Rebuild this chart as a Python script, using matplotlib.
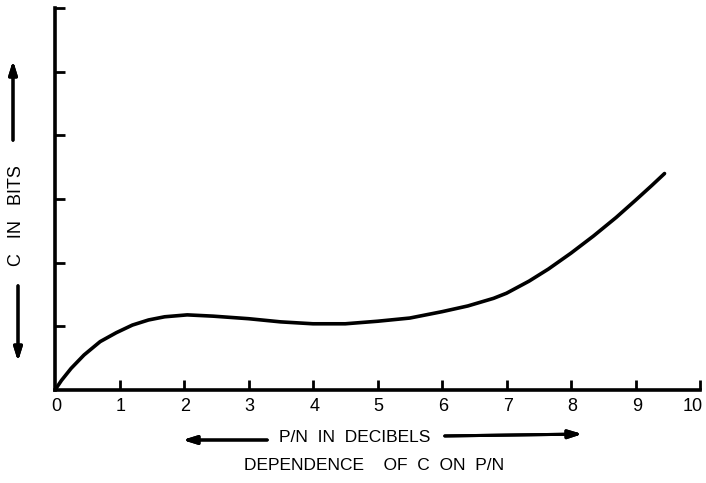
import numpy as np
from matplotlib import pyplot as plt

# values
pn_db = [0, 0.1, 0.25, 0.45, 0.7, 0.95, 1.2, 1.45, 1.7, 2.05, 2.45, 3.0, 3.5, 4.0,
         4.5, 5.0, 5.5, 6.0, 6.4, 6.8, 7.0, 7.35, 7.65, 8.0, 8.35, 8.7, 9.0, 9.25, 9.45]
c_bits = [0, 0.15, 0.34, 0.55, 0.76, 0.9, 1.02, 1.1, 1.15, 1.18, 1.16, 1.12, 1.07, 1.04,
          1.04, 1.08, 1.13, 1.23, 1.32, 1.44, 1.52, 1.71, 1.9, 2.15, 2.42, 2.71, 2.98, 3.21, 3.4]
x_ticks = list(range(1, 11))
x_tick_labels = [str(i) for i in range(0, 11)]
y_ticks = [1, 2, 3, 4, 5, 6]

W, H = 706, 483


def fx(px):
    return px / W


def fy(py):
    return 1 - py / H


def main():
    plt.rcParams['font.family'] = 'Liberation Sans'
    fig = plt.figure(figsize=(7.06, 4.83), dpi=100)
    ax = fig.add_axes([fx(55), fy(390), fx(700) - fx(55), fy(8) - fy(390)])

    ax.plot(pn_db, c_bits, '-k', lw=2.6, solid_capstyle='round', solid_joinstyle='round')

    ax.set_xlim(0, 10)
    ax.set_ylim(0, 6)
    for s in ['top', 'right']:
        ax.spines[s].set_visible(False)
    for s in ['left', 'bottom']:
        ax.spines[s].set_linewidth(2.6)
    ax.set_xticks(x_ticks)
    ax.set_xticklabels([])
    ax.set_yticks(y_ticks)
    ax.set_yticklabels([])
    ax.tick_params(axis='both', direction='in', length=7, width=2, color='black')

    # tick labels sit just under the axis
    for i, lab in enumerate(x_tick_labels):
        xpos = i + 0.02 if i < 10 else 9.88
        ax.text(xpos, -0.12, lab, ha='center', va='top', fontsize=13)

    fig.text(fx(355), fy(437), 'P/N  IN  DECIBELS', ha='center', va='center', fontsize=12.5)
    fig.text(fx(374), fy(466), 'DEPENDENCE    OF  C  ON  P/N', ha='center', va='center', fontsize=12.5)
    fig.text(fx(17), fy(216), 'C   IN   BITS', ha='center', va='center', rotation=90, fontsize=13)

    arrow = dict(arrowstyle='-|>,head_length=0.8,head_width=0.25', color='black', lw=2.2)
    fig.add_artist(plt.annotate('', xy=(fx(180), fy(440)), xytext=(fx(270), fy(440)),
                                xycoords='figure fraction', arrowprops=arrow))
    fig.add_artist(plt.annotate('', xy=(fx(585), fy(434)), xytext=(fx(442), fy(436)),
                                xycoords='figure fraction', arrowprops=arrow))
    fig.add_artist(plt.annotate('', xy=(fx(13), fy(58)), xytext=(fx(13), fy(143)),
                                xycoords='figure fraction', arrowprops=arrow))
    fig.add_artist(plt.annotate('', xy=(fx(18), fy(364)), xytext=(fx(18), fy(283)),
                                xycoords='figure fraction', arrowprops=arrow))

    plt.savefig('out.png', dpi=100)


if __name__ == "__main__":
    main()
